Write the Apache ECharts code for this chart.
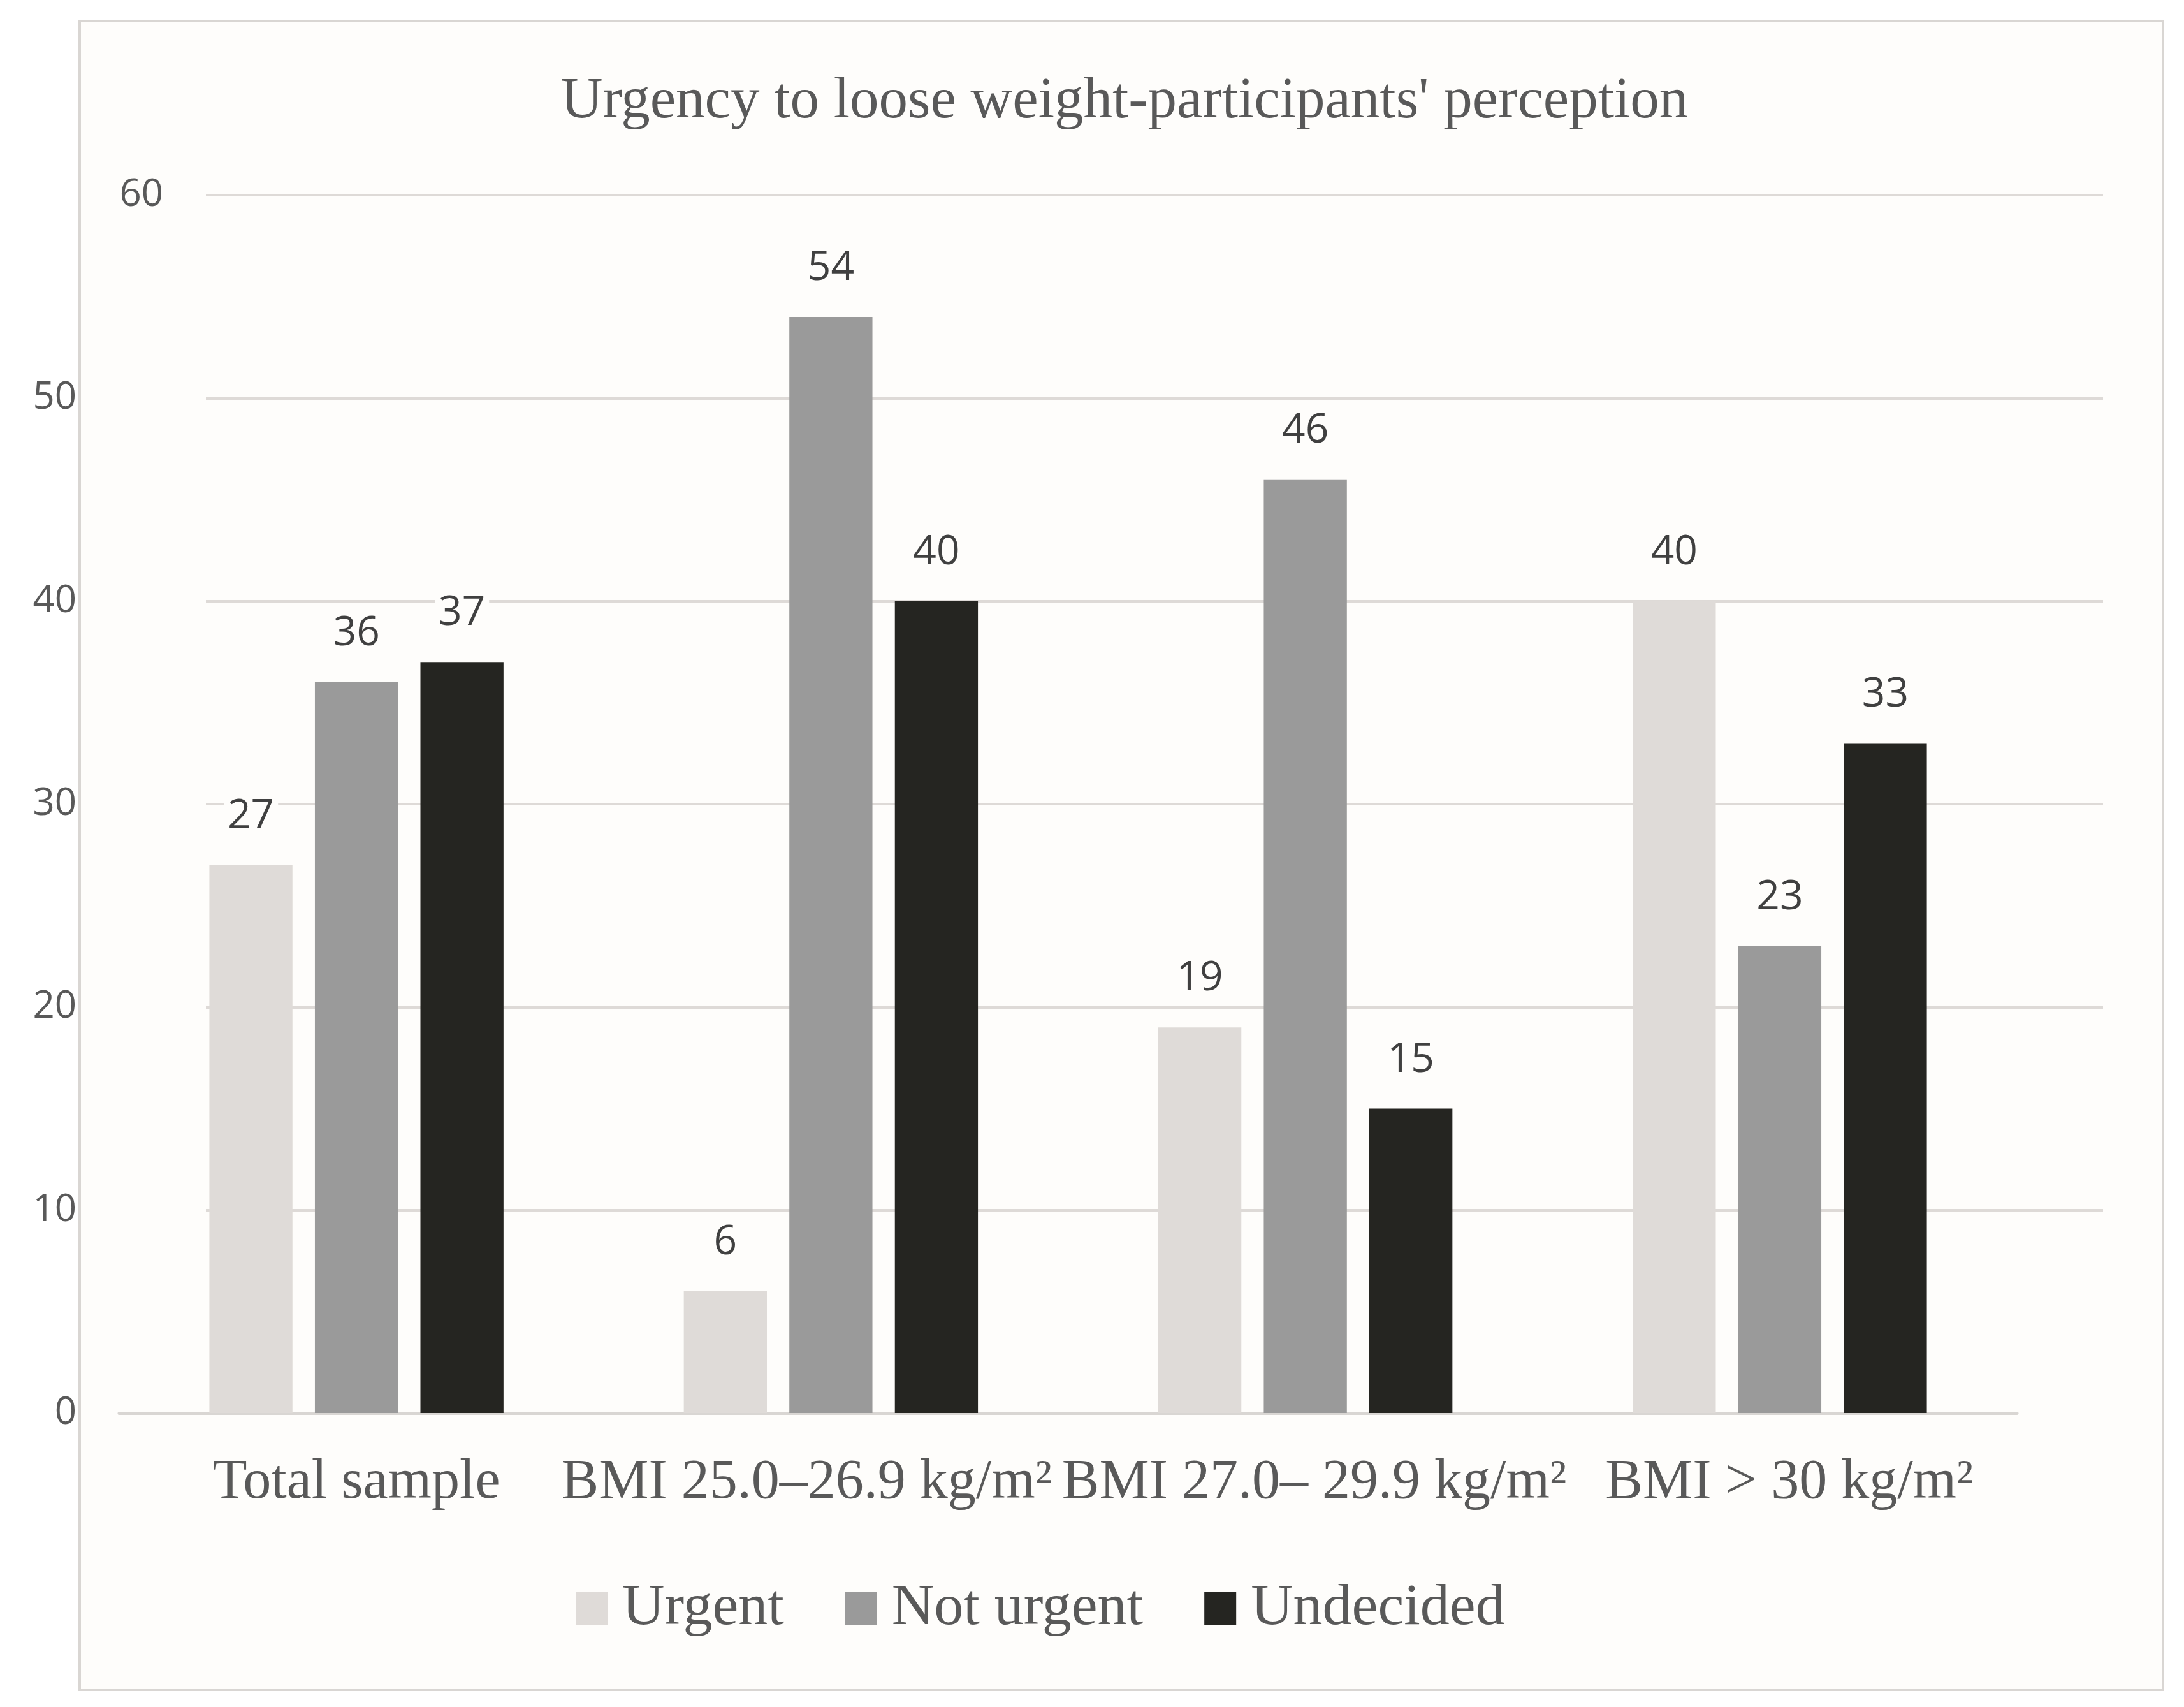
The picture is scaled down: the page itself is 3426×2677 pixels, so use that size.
<!DOCTYPE html>
<html>
<head>
<meta charset="utf-8">
<title>Urgency to loose weight</title>
<script src="https://cdn.jsdelivr.net/npm/echarts@6/dist/echarts.min.js"></script>
<style>
    html, body { margin: 0; padding: 0; background: #ffffff; }
    #chart { width: 3426px; height: 2677px; }
</style>
</head>
<body>
<div id="chart"></div>
<script>
'use strict';

// categories and series values
var categories = ['Total sample', 'BMI 25.0\u201326.9 kg/m\u00b2', 'BMI 27.0\u2013 29.9 kg/m\u00b2', 'BMI > 30 kg/m\u00b2'];
var seriesNames = ['Urgent', 'Not urgent', 'Undecided'];
var urgent = [27, 6, 19, 40];
var notUrgent = [36, 54, 46, 23];
var undecided = [37, 40, 15, 33];
var yTicks = [0, 10, 20, 30, 40, 50, 60];

var colors = ['#dfdbd8', '#9a9a9a', '#252521'];
var bg = '#fefdfb';
var serif = '"Liberation Serif", "DejaVu Serif", serif';
var sans = '"Open Sans", "Noto Sans", sans-serif';

var chart = echarts.init(document.getElementById('chart'));

// label on top of each bar
function barLabel() {
    return {
        show: true,
        position: 'top',
        distance: 44,
        fontFamily: sans,
        fontSize: 64,
        color: '#404040',
        backgroundColor: bg,
        padding: [0, 6]
    };
}

// category label style; the two middle labels are nudged apart like in the picture
function catStyle(pad) {
    return { fontFamily: serif, fontSize: 88, color: '#595959', padding: pad };
}

var values = [urgent, notUrgent, undecided];
var series = seriesNames.map(function (name, i) {
    return {
        name: name,
        type: 'bar',
        xAxisIndex: 0,
        yAxisIndex: 0,
        barGap: '27%',
        barCategoryGap: '38%',
        itemStyle: { color: colors[i] },
        label: barLabel(),
        data: values[i]
    };
});

var yMin = yTicks[0];
var yMax = yTicks[yTicks.length - 1];

var option = {
    backgroundColor: '#ffffff',
    animation: false,
    color: colors,
    graphic: [{
        type: 'rect',
        z: -10,
        shape: { x: 125, y: 33, width: 3268, height: 2617 },
        style: { fill: bg, stroke: '#d9d6d3', lineWidth: 4 }
    }],
    title: {
        text: 'Urgency to loose weight-participants\' perception',
        left: 1759,
        top: 110,
        textAlign: 'center',
        textStyle: {
            fontFamily: serif,
            fontWeight: 'normal',
            fontSize: 91,
            color: '#595959'
        }
    },
    legend: {
        data: seriesNames,
        left: 898,
        top: 2472,
        icon: 'rect',
        itemWidth: 50,
        itemHeight: 52,
        itemGap: 96,
        textStyle: {
            fontFamily: serif,
            fontSize: 92,
            color: '#595959',
            padding: [0, 0, 0, 18]
        }
    },
    grid: [
        // bars and the base line
        { left: 187, right: 262, top: 306, bottom: 461 },
        // gridlines and y labels
        { left: 323, right: 127, top: 306, bottom: 461 }
    ],
    xAxis: [{
        type: 'category',
        gridIndex: 0,
        data: categories,
        axisTick: { show: false },
        axisLine: { lineStyle: { color: '#d9d6d3', width: 5 } },
        axisLabel: {
            margin: 66,
            fontFamily: serif,
            fontSize: 88,
            color: '#595959',
            interval: 0,
            formatter: function (v, i) { return '{c' + i + '|' + v + '}'; },
            rich: {
                c0: catStyle([0, 0, 0, 0]),
                c1: catStyle([0, 76, 0, 0]),
                c2: catStyle([0, 0, 0, 28]),
                c3: catStyle([0, 0, 0, 30])
            }
        }
    }, {
        type: 'value',
        gridIndex: 1,
        min: 0,
        max: 1,
        show: false
    }],
    yAxis: [{
        type: 'value',
        gridIndex: 0,
        min: yMin,
        max: yMax,
        interval: 10,
        show: false
    }, {
        type: 'value',
        gridIndex: 1,
        position: 'left',
        min: yMin,
        max: yMax,
        interval: 10,
        axisLine: { show: false },
        axisTick: { show: false },
        splitLine: {
            show: true,
            showMinLine: false,
            lineStyle: { color: '#dedad7', width: 4 }
        },
        axisLabel: {
            margin: 203,
            fontFamily: sans,
            fontSize: 60,
            color: '#595959',
            formatter: function (v) { return v === yMax ? '' : String(v); }
        }
    }, {
        // the top tick label sits further right in the picture
        type: 'value',
        gridIndex: 1,
        position: 'left',
        min: yMin,
        max: yMax,
        interval: 10,
        axisLine: { show: false },
        axisTick: { show: false },
        splitLine: { show: false },
        axisLabel: {
            margin: 67,
            fontFamily: sans,
            fontSize: 60,
            color: '#595959',
            formatter: function (v) { return v === yMax ? String(v) : ''; }
        }
    }],
    series: series
};

chart.setOption(option);
</script>
</body>
</html>
